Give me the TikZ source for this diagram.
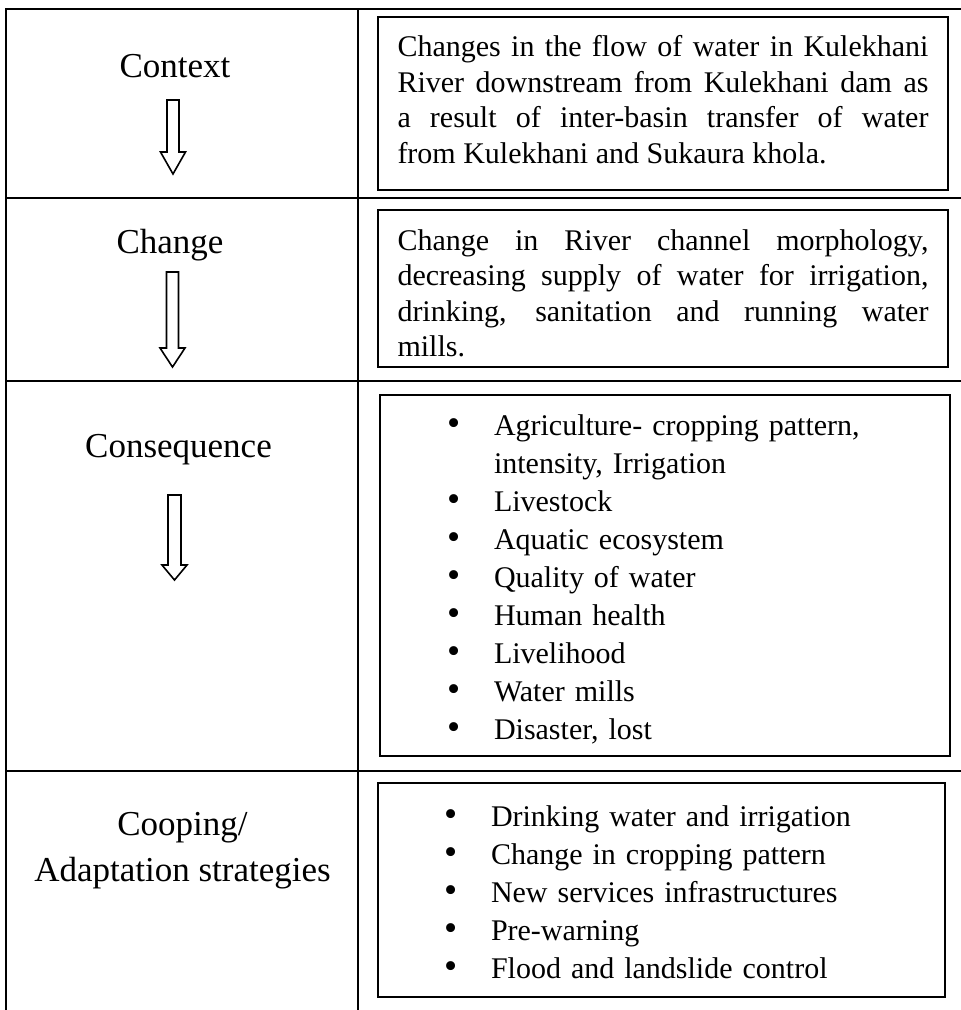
\documentclass[tikz,border=0pt]{standalone}
\usepackage{fontspec}
\setmainfont{Liberation Serif}
\usetikzlibrary{positioning}
\newcommand{\labelsize}{\fontsize{35}{46}\selectfont}
\newcommand{\boxsize}{\fontsize{30}{35.5}\selectfont}
\newcommand{\listsize}{\fontsize{30}{38}\selectfont}
\newcommand{\bulletitem}[1]{\par\noindent\hangindent=47pt\hangafter=1\makebox[47pt][l]{\scalebox{1.25}{\textbullet}}#1}

\begin{document}
\begin{tikzpicture}[x=1pt, y=-1pt]
    \tikzset{rowlabel/.style={font=\labelsize, align=center, inner sep=0pt, anchor=base}}
    \tikzset{framebox/.style={rectangle, draw=black, line width=1.8pt, inner sep=0pt}}
    \tikzset{boxtext/.style={inner sep=0pt, text width=531pt, align=justify, font=\boxsize}}
    \tikzset{listtext/.style={inner sep=0pt, align=left, font=\listsize}}
    \tikzset{grid/.style={line width=2pt}}
    \tikzset{hollow/.style={draw=black, line width=1.6pt, fill=white, line join=miter}}
    \useasboundingbox (0,0) rectangle (961,1010);

    % table frame
    \draw[grid] (6,1010) -- (6,9) -- (961,9);
    \draw[grid] (358,9) -- (358,1010);
    \draw[grid] (6,198) -- (961,198);
    \draw[grid] (6,381) -- (961,381);
    \draw[grid] (6,771) -- (961,771);

    % left column
    \node[rowlabel] at (175,77) (context) {Context};
    \node[rowlabel] at (170,253) (change) {Change};
    \node[rowlabel] at (178.5,457) (conseq) {Consequence};
    \node[rowlabel, anchor=north] at (182.5,812) (coping) {Cooping/\\Adaptation strategies};

    % hollow arrows
    \draw[hollow] (167,100) -- (179,100) -- (179,152) -- (185.5,152) -- (173,174) -- (160.5,152) -- (167,152) -- cycle;
    \draw[hollow] (166.5,272) -- (178.5,272) -- (178.5,348) -- (185,348) -- (172.5,367) -- (160,348) -- (166.5,348) -- cycle;
    \draw[hollow] (168,495) -- (181,495) -- (181,565) -- (187,565) -- (174.5,580) -- (162,565) -- (168,565) -- cycle;

    % right column
    \node[framebox, minimum width=570pt, minimum height=173pt] at (663,103.5) (ctxbox) {};
    \node[framebox, minimum width=570pt, minimum height=157pt] at (663,288.5) (chgbox) {};
    \node[framebox, minimum width=570pt, minimum height=361pt] at (665,575.5) (conbox) {};
    \node[framebox, minimum width=567pt, minimum height=214pt] at (661.5,890) (adabox) {};

    \node[boxtext] at ([yshift=4pt]ctxbox.center) (ctxtext) {Changes in the flow of water in Kulekhani\linebreak
        River downstream from Kulekhani dam as\linebreak
        a result of inter-basin transfer of water\linebreak
        from Kulekhani and Sukaura khola.};
    \node[boxtext] at ([yshift=-5pt]chgbox.center) (chgtext) {Change in River channel morphology,\linebreak
        decreasing supply of water for irrigation,\linebreak
        drinking, sanitation and running water\linebreak
        mills.};
    \node[listtext, text width=436pt] at ([yshift=5pt]conbox.center) (conlist) {%
        \bulletitem{Agriculture- cropping pattern,\linebreak intensity, Irrigation}
        \bulletitem{Livestock}
        \bulletitem{Aquatic ecosystem}
        \bulletitem{Quality of water}
        \bulletitem{Human health}
        \bulletitem{Livelihood}
        \bulletitem{Water mills}
        \bulletitem{Disaster, lost}};
    \node[listtext, text width=435pt] at ([yshift=6pt]adabox.center) (adalist) {%
        \bulletitem{Drinking water and irrigation}
        \bulletitem{Change in cropping pattern}
        \bulletitem{New services infrastructures}
        \bulletitem{Pre-warning}
        \bulletitem{Flood and landslide control}};
\end{tikzpicture}
\end{document}
